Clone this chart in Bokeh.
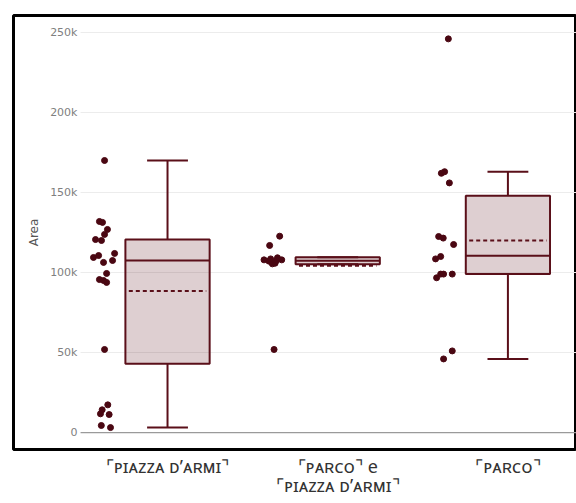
import numpy as np
from bokeh.plotting import figure
from bokeh.models import Range1d, FixedTicker, NumeralTickFormatter
from bokeh.embed import file_html
from bokeh.resources import INLINE

# ---------------- data ----------------
categories = ["⌜ᴘɪᴀᴢᴢᴀ ᴅ’ᴀʀᴍɪ⌝", "⌜ᴘᴀʀᴄᴏ⌝ e\n⌜ᴘɪᴀᴢᴢᴀ ᴅ’ᴀʀᴍɪ⌝", "⌜ᴘᴀʀᴄᴏ⌝"]
y_ticks = [0, 50000, 100000, 150000, 200000, 250000]

piazza_vals = [170000, 131900, 131300, 126900, 123800, 120600, 120000, 109400, 110600,
               106300, 107500, 111900, 99400, 95600, 93800, 95000, 51900, 17300, 14200,
               11700, 11250, 4400, 3100]
piazza_jit = [-0.370, -0.400, -0.382, -0.353, -0.370, -0.423, -0.388, -0.435, -0.405,
              -0.376, -0.323, -0.311, -0.358, -0.400, -0.358, -0.376, -0.370, -0.351,
              -0.384, -0.394, -0.343, -0.389, -0.335]

both_vals = [122700, 116900, 107900, 107100, 105400, 109200, 107900, 105800, 108500,
             107500, 51900]
both_jit = [-0.341, -0.400, -0.433, -0.404, -0.384, -0.354, -0.329, -0.368, -0.394,
            -0.360, -0.374]

parco_vals = [246000, 162000, 163000, 156000, 122500, 121500, 117500, 110000, 108500,
              96700, 99000, 99000, 99000, 51000, 46000]
parco_jit = [-0.350, -0.391, -0.372, -0.344, -0.407, -0.380, -0.319, -0.395, -0.425,
             -0.419, -0.395, -0.378, -0.327, -0.327, -0.378]

q1 = [43000, 105200, 99000]
median = [107500, 107300, 110400]
q3 = [120600, 109600, 148000]
lower = [3100, 105200, 46000]
upper = [170000, 109600, 163000]
mean = [88500, 104300, 120000]

# ---------------- style ----------------
LINE = "#5a0f19"
DOT = "#4a0712"
BOX_W = 0.495
CAP_W = 0.24
X0, X1 = -0.905, 2.403

pos = np.arange(len(categories), dtype=float)

p = figure(width=576, height=500, output_backend="svg", toolbar_location=None,
           x_range=Range1d(X0, X1), y_range=Range1d(-10600, 260600),
           min_border_left=13, min_border_right=0, min_border_top=15, min_border_bottom=51)
p.outline_line_color = "black"
p.outline_line_width = 3
p.background_fill_color = "white"
p.border_fill_color = "white"

p.xgrid.visible = False
p.ygrid.visible = False

# grid lines (custom, starting to the right of the tick labels)
grid_y = [t for t in y_ticks if t != 0]
p.segment(x0=[-0.511] * len(grid_y), x1=[X1] * len(grid_y), y0=grid_y, y1=grid_y,
          line_color="#ececec", line_width=1)
p.segment(x0=[-0.511], x1=[X1], y0=[0], y1=[0], line_color="#9a9a9a", line_width=1.2)

# whiskers
p.segment(x0=pos, x1=pos, y0=q3, y1=upper, line_color=LINE, line_width=2)
p.segment(x0=pos, x1=pos, y0=q1, y1=lower, line_color=LINE, line_width=2)
p.segment(x0=pos - CAP_W / 2, x1=pos + CAP_W / 2, y0=upper, y1=upper, line_color=LINE, line_width=2)
p.segment(x0=pos - CAP_W / 2, x1=pos + CAP_W / 2, y0=lower, y1=lower, line_color=LINE, line_width=2)

# boxes
p.vbar(x=pos, width=BOX_W, bottom=q1, top=q3, fill_color=LINE, fill_alpha=0.2,
       line_color=LINE, line_width=2)
p.segment(x0=pos - BOX_W / 2, x1=pos + BOX_W / 2, y0=median, y1=median, line_color=LINE, line_width=2)
p.segment(x0=pos - BOX_W / 2 + 0.02, x1=pos + BOX_W / 2 - 0.02, y0=mean, y1=mean,
          line_color=LINE, line_width=2, line_dash="4 3")

# points
for i, (vals, jit) in enumerate([(piazza_vals, piazza_jit), (both_vals, both_jit), (parco_vals, parco_jit)]):
    p.scatter(x=pos[i] + np.array(jit), y=vals, size=6, fill_color=DOT, line_color=DOT)

# axes
p.xaxis.ticker = FixedTicker(ticks=list(pos))
p.xaxis.major_label_overrides = {float(i): c for i, c in enumerate(categories)}
p.xaxis.major_label_overrides.update({int(i): c for i, c in enumerate(categories)})
p.xaxis.axis_line_color = None
p.xaxis.major_tick_line_color = None
p.xaxis.minor_tick_line_color = None
p.xaxis.major_label_text_font = "Noto Sans"
p.xaxis.major_label_text_font_size = "18px"
p.xaxis.major_label_text_line_height = 0.8
p.xaxis.major_label_text_color = "#333333"
p.xaxis.major_label_standoff = -2

p.yaxis.ticker = FixedTicker(ticks=y_ticks)
p.yaxis.formatter = NumeralTickFormatter(format="0a")
p.yaxis.axis_line_color = None
p.yaxis.major_tick_line_color = None
p.yaxis.minor_tick_line_color = None
p.yaxis.major_label_text_font = "DejaVu Sans"
p.yaxis.major_label_text_font_size = "11px"
p.yaxis.major_label_text_color = "#808080"
p.yaxis.major_label_standoff = -70
p.yaxis.axis_label = "Area"
p.yaxis.axis_label_text_font = "DejaVu Sans"
p.yaxis.axis_label_text_font_size = "12px"
p.yaxis.axis_label_text_font_style = "normal"
p.yaxis.axis_label_text_color = "#555555"
p.yaxis.axis_label_standoff = 6

open("out.html", "w").write(file_html(p, INLINE))
